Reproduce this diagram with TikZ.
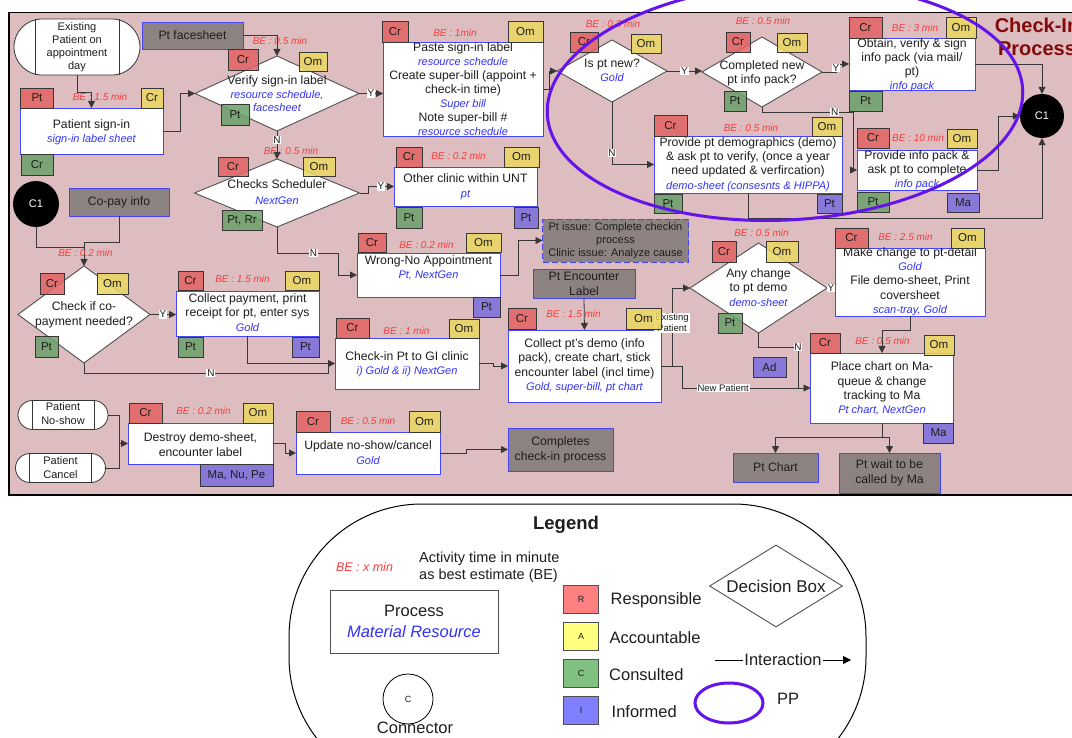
\documentclass[tikz,border=0pt]{standalone}
\usepackage{fontspec}
\setmainfont{Liberation Sans}
\usetikzlibrary{arrows.meta,shapes.geometric,calc}

\definecolor{bgpink}{RGB}{221,189,191}
\definecolor{tagR}{RGB}{228,98,98}
\definecolor{tagA}{RGB}{234,216,98}
\definecolor{tagC}{RGB}{106,160,106}
\definecolor{tagI}{RGB}{122,108,220}
\definecolor{procblue}{RGB}{70,70,245}
\definecolor{resblue}{RGB}{50,50,245}
\definecolor{bered}{RGB}{250,60,60}
\definecolor{docgray}{RGB}{140,130,130}
\definecolor{ink}{RGB}{30,30,30}
\definecolor{linegray}{RGB}{55,55,55}
\definecolor{decline}{RGB}{80,80,80}
\definecolor{ppviolet}{RGB}{100,20,235}
\definecolor{titlered}{RGB}{130,10,10}
\definecolor{lgR}{RGB}{255,128,128}
\definecolor{lgA}{RGB}{255,255,128}
\definecolor{lgC}{RGB}{128,192,128}
\definecolor{lgI}{RGB}{128,128,255}

\newcommand{\mtxt}{\fontsize{12.2}{14}\selectfont}
\newcommand{\rsc}[1]{{\fontsize{11}{14}\selectfont\itshape\color{resblue}#1}}
% role tag: name, colour, centre x, centre y, width, height, text
\newcommand{\rtag}[7]{\node[tagbox,fill=#2,minimum width=#5,minimum height=#6] (#1) at (#3,#4) {#7};}
% activity time estimate: name, x, y, value
\newcommand{\betime}[4]{\node[be] (#1) at (#2,#3) {BE : #4};}

\begin{document}
\begin{tikzpicture}[x=1pt,y=-1pt,
  flow/.style={draw=linegray,line width=.8pt},
  arr/.style={flow,-{Triangle[length=7pt,width=7pt]}},
  proc/.style={draw=procblue,line width=.9pt,fill=white,inner sep=0pt,outer sep=0pt},
  doc/.style={draw=procblue,line width=.9pt,fill=docgray,inner sep=0pt,outer sep=0pt,text=ink,align=center,font=\mtxt},
  dec/.style={diamond,draw=decline,line width=.9pt,fill=white,inner sep=0pt,outer sep=0pt},
  term/.style={rectangle,draw=linegray,line width=.8pt,fill=white,inner sep=0pt,outer sep=0pt},
  ptext/.style={align=center,text=ink,inner sep=0pt,font=\mtxt},
  tagbox/.style={draw=linegray,line width=.8pt,fill opacity=.85,text opacity=1,draw opacity=1,inner sep=0pt,outer sep=0pt,text=ink,font=\fontsize{11.5}{13}\selectfont},
  be/.style={text=bered,inner sep=0pt,font=\fontsize{10}{12}\selectfont\itshape},
  yn/.style={fill=white,text=ink,inner sep=.8pt,font=\fontsize{10}{11}\selectfont},
  lbl/.style={fill=white,text=ink,inner sep=1pt,align=center,font=\fontsize{9.5}{11}\selectfont},
  conn/.style={circle,fill=black,text=white,inner sep=0pt,minimum size=44pt,font=\fontsize{11}{13}\selectfont},
  ppline/.style={draw=ppviolet,line width=3pt},
  lgtag/.style={draw=decline,line width=.8pt,inner sep=0pt,minimum width=35pt,minimum height=28pt,text=ink,font=\fontsize{9}{11}\selectfont},
  lgtext/.style={text=ink,inner sep=0pt,font=\fontsize{16.5}{19}\selectfont}
]
\useasboundingbox (0,0) rectangle (1072,738);
\clip (0,0) rectangle (1072,738);

% process frame
\fill[bgpink] (9,12.5) rectangle (1090,495);
\draw[black,line width=1.6pt] (9,12.5) rectangle (1090,495);
\node[align=center,inner sep=0pt,text=titlered,font=\fontsize{20}{23}\selectfont\bfseries] (title) at (1037,37) {Check-In\\Process};

% ---------- shapes ----------
\node[term,minimum width=126,minimum height=56,rounded corners=28] (start) at (77,47) {};
\draw[flow] ([xshift=21pt]start.north west) -- ([xshift=21pt]start.south west);
\draw[flow] ([xshift=-21pt]start.north east) -- ([xshift=-21pt]start.south east);
\node[ptext,font=\fontsize{11}{13}\selectfont] (start-t) at (77,47) {Existing\\Patient on\\appointment\\day};

\node[doc,minimum width=101,minimum height=27] (face) at (192.5,35.5) {Pt facesheet};

\node[proc,minimum width=143,minimum height=46] (signin) at (91.5,131) {};
\node[ptext] (signin-t) at (91.5,132) {Patient sign-in\\\rsc{sign-in label sheet}};

\node[dec,minimum width=164,minimum height=75] (verify) at (277,93.5) {};
\node[ptext,font=\fontsize{12.2}{13.5}\selectfont] (verify-t) at (277,94) {Verify sign-in label\\\rsc{resource schedule,}\\\rsc{facesheet}};

\node[proc,minimum width=160,minimum height=94] (paste) at (463,89) {};
\node[ptext] (paste-t) at (463,89) {Paste sign-in label\\\rsc{resource schedule}\\Create super-bill (appoint +\\check-in time)\\\rsc{Super bill}\\Note super-bill \#\\\rsc{resource schedule}};

\node[dec,minimum width=110,minimum height=62] (newpt) at (612,71) {};
\node[ptext] (newpt-t) at (612,70) {Is pt new?\\\rsc{Gold}};

\node[dec,minimum width=120,minimum height=70] (compl) at (762,72) {};
\node[ptext] (compl-t) at (762,73) {Completed new\\pt info pack?};

\node[proc,minimum width=126,minimum height=52] (obtain) at (912,64) {};
\node[ptext] (obtain-t) at (912,65) {Obtain, verify \& sign\\info pack (via mail/\\pt)\\\rsc{info pack}};

\node[proc,minimum width=120,minimum height=40] (info) at (917,170) {};
\node[ptext] (info-t) at (917,170) {Provide info pack \&\\ask pt to complete\\\rsc{info pack}};

\node[conn] (c1) at (1042,116) {C1};

\node[proc,minimum width=188,minimum height=57] (demo) at (748,164.5) {};
\node[ptext,font=\fontsize{12.2}{14.3}\selectfont] (demo-t) at (748,164.5) {Provide pt demographics (demo)\\\& ask pt to verify, (once a year\\need updated \& verfircation)\\\rsc{demo-sheet (consesnts \& HIPPA)}};

\node[dec,minimum width=165,minimum height=68] (sched) at (277,193) {};
\node[ptext,font=\fontsize{12.2}{16}\selectfont] (sched-t) at (277,192) {Checks Scheduler\\\rsc{NextGen}};

\node[proc,minimum width=143,minimum height=39] (other) at (465.5,186.5) {};
\node[ptext,font=\fontsize{12.2}{15}\selectfont] (other-t) at (465.5,186.5) {Other clinic within UNT\\\rsc{pt}};

\node[proc,minimum width=143,minimum height=44] (wrong) at (428.5,275) {};
\node[ptext] (wrong-t) at (428.5,268) {Wrong-No Appointment\\\rsc{Pt, NextGen}};

\node[doc,dashed,dash pattern=on 6pt off 3pt,minimum width=146,minimum height=43,font=\fontsize{11}{13}\selectfont] (issue) at (615.5,240.5) {Pt issue: Complete checkin\\process\\Clinic issue: Analyze cause};

\node[doc,minimum width=102,minimum height=29,font=\fontsize{12.2}{15}\selectfont] (enc) at (584,283.5) {Pt Encounter\\Label};

\node[proc,minimum width=153,minimum height=72] (collect) at (584.5,366) {};
\node[ptext,font=\fontsize{12.2}{14.5}\selectfont] (collect-t) at (584.5,365.5) {Collect pt's demo (info\\pack), create chart, stick\\encounter label (incl time)\\\rsc{Gold, super-bill, pt chart}};

\node[proc,minimum width=144,minimum height=51] (checkin) at (407,363.5) {};
\node[ptext] (checkin-t) at (407,364) {Check-in Pt to GI clinic\\\rsc{i) Gold \& ii) NextGen}};

\node[conn,minimum size=46pt] (c1b) at (36,204) {C1};
\node[doc,minimum width=100,minimum height=28] (copay) at (119,202) {Co-pay info};

\node[dec,minimum width=132,minimum height=97] (copayD) at (84,314.5) {};
\node[ptext,font=\fontsize{12.2}{15}\selectfont] (copayD-t) at (84,314.5) {Check if co-\\payment needed?};

\node[proc,minimum width=143,minimum height=45] (pay) at (247.5,313.5) {};
\node[ptext,font=\fontsize{12.2}{14.5}\selectfont] (pay-t) at (247.5,312.5) {Collect payment, print\\receipt for pt, enter sys\\\rsc{Gold}};

\node[term,minimum width=90,minimum height=29,rounded corners=14.5] (noshow) at (63,415) {};
\draw[flow] ([xshift=14pt]noshow.north west) -- ([xshift=14pt]noshow.south west);
\draw[flow] ([xshift=-14pt]noshow.north east) -- ([xshift=-14pt]noshow.south east);
\node[ptext,font=\fontsize{11}{14}\selectfont] (noshow-t) at (63,414) {Patient\\No-show};

\node[term,minimum width=90,minimum height=29,rounded corners=14.5] (cancel) at (60.5,468) {};
\draw[flow] ([xshift=14pt]cancel.north west) -- ([xshift=14pt]cancel.south west);
\draw[flow] ([xshift=-14pt]cancel.north east) -- ([xshift=-14pt]cancel.south east);
\node[ptext,font=\fontsize{11}{14}\selectfont] (cancel-t) at (60.5,467.5) {Patient\\Cancel};

\node[proc,minimum width=145,minimum height=41] (destroy) at (200.5,443.5) {};
\node[ptext,font=\fontsize{12.2}{15}\selectfont] (destroy-t) at (200.5,444.5) {Destroy demo-sheet,\\encounter label};

\node[proc,minimum width=144,minimum height=42] (update) at (368,453) {};
\node[ptext,font=\fontsize{12.2}{15}\selectfont] (update-t) at (368,452.5) {Update no-show/cancel\\\rsc{Gold}};

\node[doc,minimum width=105,minimum height=43,font=\fontsize{12.2}{15}\selectfont] (done) at (560.5,449.5) {Completes\\check-in process};

\node[dec,minimum width=137,minimum height=90] (anych) at (758.5,288) {};
\node[ptext,font=\fontsize{12.2}{14.5}\selectfont] (anych-t) at (758.5,287.5) {Any change\\to pt demo\\\rsc{demo-sheet}};

\node[proc,minimum width=150,minimum height=68] (make) at (910,282) {};
\node[ptext,font=\fontsize{12.2}{14.3}\selectfont] (make-t) at (910,281.5) {Make change to pt-detail\\\rsc{Gold}\\File demo-sheet, Print\\coversheet\\\rsc{scan-tray, Gold}};

\node[proc,minimum width=143,minimum height=70] (place) at (882,388) {};
\node[ptext,font=\fontsize{12.2}{14.3}\selectfont] (place-t) at (882,388.5) {Place chart on Ma-\\queue \& change\\tracking to Ma\\\rsc{Pt chart, NextGen}};

\node[doc,minimum width=85,minimum height=29] (ptchart) at (775.5,467.5) {Pt Chart};
\node[doc,minimum width=101,minimum height=40,font=\fontsize{12.2}{15}\selectfont] (ptwait) at (889.5,473) {Pt wait to be\\called by Ma};

% ---------- connectors ----------
\draw[arr] (start.south) -- (77,92) -| (signin.north);
\draw[arr] (face.east) -| (verify.north);
\draw[arr] (signin.east) -- (180,131) |- (verify.west);
\draw[arr] (verify.east) -- node[yn]{Y} (paste.west |- verify.east);
\draw[arr] (paste.east) -- (549,89) |- (newpt.west);
\draw[arr] (newpt.east) -- node[yn]{Y} (newpt.east -| compl.west);
\draw[arr] (compl.east) -- (836,72) |- node[yn,pos=.25]{Y} (obtain.west);
\draw[arr] (obtain.east) -| (c1.north);
\draw[arr] (compl.south) -- (762,112) -| node[yn,pos=.4]{N} (853,170) -- (info.west);
\draw[arr] (info.east) -- (998,170) |- (c1.west);
\draw[arr] (newpt.south) |- node[yn,pos=.41]{N} (demo.west);
\draw[arr] (demo.south) -- (748,218) -| (c1.south);
\draw[arr] (verify.south) -- node[yn,pos=.33]{N} (sched.north);
\draw[arr] (sched.east) -- (368,193) |- node[yn,pos=.75]{Y} (other.west);
\draw[arr] (sched.south) -- (277,253) -| node[yn,pos=.3]{N} (338,275) -- (wrong.west);
\draw[arr] (wrong.east) -- (518,275) |- (issue.west);
\draw[arr] (enc.south) -- (collect.north);
\draw[arr] (checkin.east) -- (493,363.5) |- (collect.west);
\draw[flow] (c1b.south) |- (84,247);
\draw[arr] (copay.south) |- (84,242) -- (copayD.north);
\draw[arr] (copayD.east) -- node[yn]{Y} (pay.west |- copayD.east);
\draw[arr] (pay.south) |- (checkin.west);
\draw[flow] (copayD.south) -- (84,373) -| node[yn,pos=.26]{N} (328,363.5);

\coordinate (j1) at (119,443.5);
\draw[arr] (noshow.east) -| (j1) -- (destroy.west);
\draw[flow] (cancel.east) -| (j1);
\draw[arr] (destroy.east) -- (285,443.5) |- (update.west);
\draw[arr] (update.east) -- (466,453) |- (done.west);

\coordinate (split) at (672,366);
\draw[flow] (collect.east) -- (split);
\draw[arr] (split) |- node[lbl,pos=.275]{Existing\\Patient} (anych.west);
\draw[arr] (split) -- (682,366) |- node[lbl,pos=.66]{New Patient} (place.west);
\draw[arr] (anych.east) -- node[yn]{Y} (anych.east -| make.west);
\draw[flow] (anych.south) -- (758.5,347) -| node[yn,pos=.5]{N} (798,388);
\draw[arr] (make.south) -- (910,330) -| (place.north);
\coordinate (split2) at (882,437);
\draw[flow] (place.south) -- (split2);
\draw[arr] (split2) -| (ptchart.north);
\draw[arr] (split2) -| (ptwait.north);

% ---------- role tags ----------
\rtag{t1a}{tagR}{37}{98}{33}{20}{Pt}
\rtag{t1b}{tagA}{152}{98}{22}{20}{Cr}
\rtag{t1c}{tagC}{37}{164.5}{32}{21}{Cr}
\rtag{t2a}{tagR}{243}{59.5}{30}{21}{Cr}
\rtag{t2b}{tagA}{313}{62}{28}{19}{Om}
\rtag{t2c}{tagC}{235}{114.5}{28}{21}{Pt}
\rtag{t3a}{tagR}{395}{31.5}{26}{21}{Cr}
\rtag{t3b}{tagA}{525.5}{31.5}{35}{21}{Om}
\rtag{t4a}{tagR}{584}{42}{28}{20}{Cr}
\rtag{t4b}{tagA}{646}{44}{30}{19}{Om}
\rtag{t5a}{tagR}{738}{42}{24}{20}{Cr}
\rtag{t5b}{tagA}{792}{42.5}{30}{19}{Om}
\rtag{t5c}{tagC}{735}{101}{22}{20}{Pt}
\rtag{t6a}{tagR}{865.5}{27.5}{33}{21}{Cr}
\rtag{t6b}{tagA}{961}{27.5}{30}{21}{Om}
\rtag{t6c}{tagC}{865.5}{101}{33}{20}{Pt}
\rtag{t7a}{tagR}{873}{138}{32}{20}{Cr}
\rtag{t7b}{tagA}{962}{138.5}{30}{19}{Om}
\rtag{t7c}{tagC}{873}{202}{32}{20}{Pt}
\rtag{t7d}{tagI}{963}{202.5}{32}{19}{Ma}
\rtag{t8a}{tagR}{670.5}{125.5}{33}{21}{Cr}
\rtag{t8b}{tagA}{827}{126.5}{30}{19}{Om}
\rtag{t8c}{tagC}{668}{203.5}{28}{19}{Pt}
\rtag{t8d}{tagI}{829.5}{203.5}{25}{19}{Pt}
\rtag{t9a}{tagR}{233}{166.5}{30}{19}{Cr}
\rtag{t9b}{tagA}{319}{166.5}{32}{19}{Om}
\rtag{t9c}{tagC}{242}{220}{40}{20}{Pt, Rr}
\rtag{t10a}{tagR}{409}{157}{26}{20}{Cr}
\rtag{t10b}{tagA}{521.5}{157}{35}{20}{Om}
\rtag{t10c}{tagC}{409}{217.5}{26}{21}{Pt}
\rtag{t10d}{tagI}{526}{217.5}{24}{21}{Pt}
\rtag{t11a}{tagR}{372}{242.5}{28}{19}{Cr}
\rtag{t11b}{tagA}{483.5}{242.5}{35}{19}{Om}
\rtag{t11c}{tagI}{486.5}{307}{27}{20}{Pt}
\rtag{t12a}{tagR}{522}{319}{28}{21}{Cr}
\rtag{t12b}{tagA}{643.5}{319}{35}{21}{Om}
\rtag{t13a}{tagR}{352.5}{328}{33}{20}{Cr}
\rtag{t13b}{tagA}{464}{328.5}{30}{19}{Om}
\rtag{t14a}{tagR}{52}{283.5}{24}{21}{Cr}
\rtag{t14b}{tagA}{112.5}{283.5}{31}{21}{Om}
\rtag{t14c}{tagC}{46.5}{346.5}{23}{21}{Pt}
\rtag{t15a}{tagR}{190.5}{280.5}{25}{19}{Cr}
\rtag{t15b}{tagA}{302}{280.5}{34}{19}{Om}
\rtag{t15c}{tagC}{190.5}{347}{25}{20}{Pt}
\rtag{t15d}{tagI}{305.5}{347}{27}{20}{Pt}
\rtag{t16a}{tagR}{724}{251.5}{24}{21}{Cr}
\rtag{t16b}{tagA}{782}{251.5}{32}{21}{Om}
\rtag{t16c}{tagC}{730}{323}{24}{20}{Pt}
\rtag{t16d}{tagI}{769.5}{367}{33}{20}{Ad}
\rtag{t17a}{tagR}{851.5}{238}{33}{20}{Cr}
\rtag{t17b}{tagA}{967.5}{238}{33}{20}{Om}
\rtag{t18a}{tagR}{825}{343}{30}{20}{Cr}
\rtag{t18b}{tagA}{939}{345}{30}{20}{Om}
\rtag{t18c}{tagI}{938.5}{433}{30}{20}{Ma}
\rtag{t19a}{tagR}{145.5}{413}{33}{20}{Cr}
\rtag{t19b}{tagA}{258}{413}{30}{20}{Om}
\rtag{t19c}{tagI}{236.5}{475}{73}{22}{Ma, Nu, Pe}
\rtag{t20a}{tagR}{313}{421.5}{34}{21}{Cr}
\rtag{t20b}{tagA}{424.5}{421.5}{31}{21}{Om}

% ---------- activity times ----------
\betime{be1}{100}{97}{1.5 min}
\betime{be2}{280}{41}{0.5 min}
\betime{be3}{455}{33}{1min}
\betime{be4}{613}{24}{0.3 min}
\betime{be5}{763}{21}{0.5 min}
\betime{be6}{915}{28}{3 min}
\betime{be7}{918}{138}{10 min}
\betime{be8}{751}{128}{0.5 min}
\betime{be9}{291}{151}{0.5 min}
\betime{be10}{458.5}{156}{0.2 min}
\betime{be11}{426.5}{245}{0.2 min}
\betime{be12}{573.5}{314}{1.5 min}
\betime{be13}{406.5}{331}{1 min}
\betime{be14}{85.5}{253}{0.2 min}
\betime{be15}{242.5}{279}{1.5 min}
\betime{be16}{761.5}{233}{0.5 min}
\betime{be17}{905.5}{237}{2.5 min}
\betime{be18}{882.5}{341}{0.5 min}
\betime{be19}{203.5}{411}{0.2 min}
\betime{be20}{368}{420.5}{0.5 min}

% process-improvement area
\draw[ppline,rotate around={3:(785,102)}] (785,102) ellipse [x radius=238,y radius=118];

% ---------- legend ----------
\draw[black,fill=white,line width=1pt,rounded corners=133pt] (289,504) rectangle (866,790);
\node[text=ink,inner sep=0pt,font=\fontsize{18.5}{21}\selectfont\bfseries] (lgtitle) at (566,525) {Legend};
\node[be,font=\fontsize{12.5}{14}\selectfont\itshape] (lgbe) at (364.5,567) {BE : x min};
\node[anchor=west,align=left,text=ink,inner sep=0pt,font=\fontsize{14.5}{17}\selectfont] (lgact) at (419,567.5) {Activity time in minute\\as best estimate (BE)};
\node[draw=decline,line width=.9pt,minimum width=168,minimum height=63,inner sep=0pt] (lgproc) at (414,621.5) {};
\node[lgtext,align=center,font=\fontsize{16.5}{21}\selectfont] (lgproc-t) at (414,621.5) {Process\\{\itshape\color{resblue}Material Resource}};
\node[circle,draw=black,line width=.8pt,minimum size=50pt,inner sep=0pt,text=ink,font=\fontsize{9}{11}\selectfont] (lgconn) at (408,699) {C};
\node[lgtext] (lgconn-t) at (415,728) {Connector};
\node[lgtag,fill=lgR] (lgr) at (581,599) {R};
\node[lgtag,fill=lgA] (lga) at (581,636) {A};
\node[lgtag,fill=lgC] (lgc) at (581,673) {C};
\node[lgtag,fill=lgI] (lgi) at (581,710) {I};
\node[lgtext,anchor=west] (lgr-t) at (610.5,600) {Responsible};
\node[lgtext,anchor=west] (lga-t) at (609.5,637.5) {Accountable};
\node[lgtext,anchor=west] (lgc-t) at (609,675) {Consulted};
\node[lgtext,anchor=west] (lgi-t) at (611.5,712) {Informed};
\node[diamond,draw=decline,line width=.9pt,fill=white,inner sep=0pt,minimum width=133,minimum height=82] (lgdec) at (776,586) {};
\node[lgtext,font=\fontsize{17}{19}\selectfont] (lgdec-t) at (776,586) {Decision Box};
\coordinate (lgi1) at (715,660);
\coordinate (lgi2) at (851,660);
\draw[black,line width=.8pt,-{Triangle[length=8pt,width=8pt]}] (lgi1) -- node[lgtext,fill=white,inner sep=1pt] (lgint) {Interaction} (lgi2);
\draw[ppline] (729,703) ellipse [x radius=34,y radius=20];
\node[lgtext] (lgpp) at (788,699) {PP};
\end{tikzpicture}
\end{document}
